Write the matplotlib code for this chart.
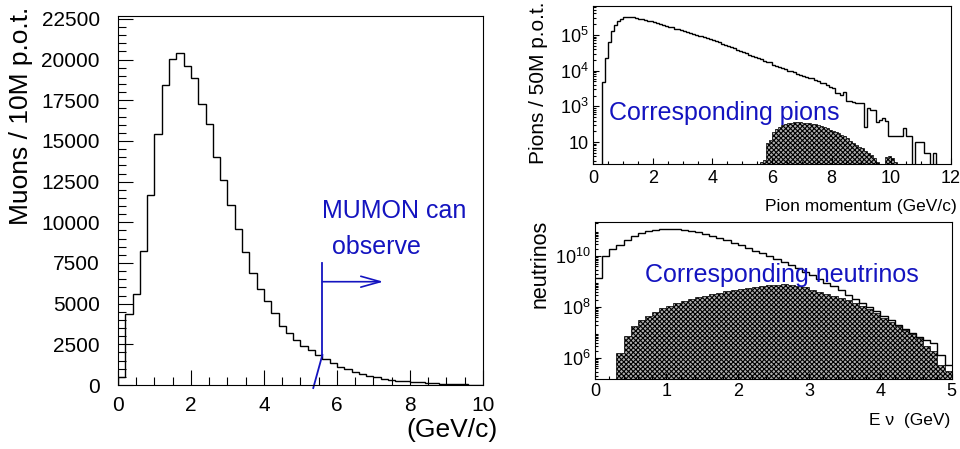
import matplotlib
matplotlib.use("Agg")
import matplotlib.pyplot as plt
import numpy as np
from matplotlib.ticker import MultipleLocator, FixedLocator, LogLocator, NullFormatter

# ---- data ----
# muons per 0.2 GeV/c bin, 0 - 10 GeV/c
muon_counts = [
    500, 4350, 5600, 8250, 11650, 15450, 18450, 20050, 20400, 19600,
    18850, 17250, 16050, 14000, 12600, 11050, 9600, 8150, 6900, 5900,
    5150, 4400, 3600, 3200, 2750, 2400, 2150, 1850, 1580, 1370,
    1130, 960, 820, 680, 550, 470, 390, 330, 270, 225,
    185, 165, 125, 100, 80, 60, 40, 40, 20, 20,
]
muon_bin = 0.2

# pions per 0.1 GeV/c bin (log10 of counts, 0 = empty), 0 - 12 GeV/c
pion_log = [
    0, 0, 0, 3.67, 4.34, 4.80, 5.12, 5.28, 5.39, 5.45,
    5.50, 5.51, 5.50, 5.49, 5.47, 5.455, 5.44, 5.415, 5.40, 5.377,
    5.35, 5.33, 5.30, 5.27, 5.25, 5.23, 5.21, 5.18, 5.16, 5.14,
    5.12, 5.09, 5.06, 5.03, 5.01, 4.98, 4.96, 4.93, 4.91, 4.88,
    4.86, 4.83, 4.80, 4.76, 4.73, 4.69, 4.66, 4.62, 4.58, 4.54,
    4.51, 4.48, 4.45, 4.42, 4.39, 4.36, 4.33, 4.28, 4.23, 4.24,
    4.16, 4.14, 4.11, 4.08, 4.05, 4.00, 3.98, 3.95, 3.91, 3.88,
    3.85, 3.83, 3.80, 3.79, 3.75, 3.70, 3.65, 3.66, 3.60, 3.55,
    3.51, 3.37, 3.36, 3.33, 3.40, 3.16, 3.16, 3.12, 3.10, 3.10,
    3.08, 2.43, 2.94, 2.90, 2.90, 2.57, 2.62, 2.66, 2.60, 2.17,
    2.17, 2.17, 2.17, 2.17, 2.38, 2.17, 2.17, 0, 2.01, 2.01,
    2.01, 1.68, 1.68, 0, 1.68, 0, 0, 0, 0, 0,
]
pion_sel_log = [0] * 56 + [
    1.45, 1.50, 1.98, 2.05,
    2.28, 2.36, 2.42, 2.47, 2.50, 2.52, 2.54, 2.55, 2.55, 2.55,
    2.54, 2.53, 2.52, 2.51, 2.50, 2.47, 2.45, 2.42, 2.38, 2.35,
    2.32, 2.28, 2.24, 2.20, 2.16, 2.10, 2.04, 1.98, 1.93, 1.87,
    1.82, 1.76, 1.70, 1.63, 1.56, 1.45, 0, 0, 1.58, 1.62,
    1.55, 1.45,
] + [0] * 18
pion_bin = 0.1

# neutrinos per 0.1 GeV bin (log10), 0 - 5 GeV
nu_log = [
    9.15, 10.03, 10.28, 10.46, 10.65, 10.78, 10.90, 10.98, 11.04, 11.07,
    11.08, 11.07, 11.05, 11.01, 10.95, 10.87, 10.80, 10.72, 10.63, 10.54,
    10.43, 10.33, 10.22, 10.12, 10.00, 9.89, 9.77, 9.65, 9.53, 9.40,
    9.27, 9.12, 8.97, 8.82, 8.66, 8.50, 8.34, 8.18, 8.01, 7.84,
    7.67, 7.50, 7.32, 7.15, 6.98, 6.85, 6.73, 6.60, 6.14, 5.75,
]
nu_sel_log = [
    0, 0, 0, 6.20, 6.88, 7.27, 7.50, 7.67, 7.83, 7.96,
    8.07, 8.16, 8.24, 8.32, 8.39, 8.46, 8.52, 8.58, 8.64, 8.69,
    8.73, 8.77, 8.81, 8.84, 8.87, 8.89, 8.90, 8.88, 8.84, 8.78,
    8.69, 8.61, 8.53, 8.45, 8.36, 8.27, 8.17, 8.06, 7.93, 7.78,
    7.60, 7.42, 7.26, 7.10, 6.94, 6.78, 6.48, 6.30, 5.75, 5.50,
]
nu_bin = 0.1

# MUMON acceptance marker (GeV/c, muons)
mumon_cut = 5.6
mumon_cut_low = 5.35
mumon_y = [1850, 7500]
mumon_arrow_y = 6350
mumon_arrow_end = 7.27

blue = "#1414c0"

plt.rcParams["font.family"] = ["Liberation Sans", "DejaVu Sans"]
plt.rcParams["mathtext.fontset"] = "custom"
plt.rcParams["mathtext.rm"] = "Liberation Sans"
plt.rcParams["hatch.linewidth"] = 0.8

fig = plt.figure(figsize=(9.6, 4.49), dpi=100)


def style(ax, size, major, minor, pad):
    ax.tick_params(which="both", direction="in", top=False, right=False,
                   labelsize=size, pad=pad, width=0.8)
    ax.tick_params(which="major", length=major)
    ax.tick_params(which="minor", length=minor)
    for s in ax.spines.values():
        s.set_linewidth(0.8)


# ---- left: muons ----
ax1 = fig.add_axes([0.1229, 0.1425, 0.3802, 0.8218])
edges = np.arange(len(muon_counts) + 1) * muon_bin
ax1.stairs(muon_counts, edges, color="black", lw=1.0)
ax1.set_xlim(0, 10)
ax1.set_ylim(0, 22680)
ax1.xaxis.set_major_locator(MultipleLocator(2))
ax1.xaxis.set_minor_locator(MultipleLocator(0.5))
ax1.yaxis.set_major_locator(MultipleLocator(2500))
ax1.yaxis.set_minor_locator(MultipleLocator(500))
style(ax1, 15, 10.5, 5.5, 8)
ax1.tick_params(axis="y", pad=13)

ax1.plot([mumon_cut, mumon_cut], mumon_y, color=blue, lw=1.3)
ax1.plot([mumon_cut_low, mumon_cut], [-185, mumon_y[0]], color=blue, lw=1.3,
         clip_on=False)
ax1.annotate("", xy=(mumon_arrow_end, mumon_arrow_y),
             xytext=(mumon_cut, mumon_arrow_y),
             arrowprops=dict(arrowstyle="->,head_length=1.0,head_width=0.28",
                             color=blue, lw=1.2, shrinkA=0, shrinkB=0,
                             mutation_scale=14))
ax1.text(5.6, 10700, "MUMON can", color=blue, fontsize=18, va="center")
ax1.text(5.85, 8480, "observe", color=blue, fontsize=18, va="center")

fig.text(21 / 960, 1 - 7 / 449, "Muons / 10M p.o.t.", rotation=90,
         fontsize=19, ha="center", va="top")
fig.text(498 / 960, 1 - 430 / 449, "(GeV/c)", fontsize=19,
         ha="right", va="center")

# ---- top right: pions ----
ax2 = fig.add_axes([0.6180, 0.6347, 0.3723, 0.3519])
pedges = np.arange(len(pion_log) + 1) * pion_bin
ax2.stairs(10.0 ** np.array(pion_sel_log), pedges, baseline=1, fill=True,
           facecolor="#b0b0b0", edgecolor="black", hatch="xxxxxxx", lw=0.5)
ax2.stairs(10.0 ** np.array(pion_log), pedges, baseline=None,
           color="black", lw=1.0)
ax2.set_yscale("log")
ax2.set_xlim(0, 12)
ax2.set_ylim(10 ** 1.384, 10 ** 5.81)
ax2.xaxis.set_major_locator(MultipleLocator(2))
ax2.xaxis.set_minor_locator(MultipleLocator(0.5))
ax2.yaxis.set_major_locator(FixedLocator([1e2, 1e3, 1e4, 1e5]))
ax2.set_yticklabels(["10", "10$^3$", "10$^4$", "10$^5$"])
ax2.yaxis.set_minor_locator(LogLocator(base=10, subs=np.arange(2, 10), numticks=20))
ax2.yaxis.set_minor_formatter(NullFormatter())
style(ax2, 13, 4.5, 2.5, 4)
ax2.tick_params(axis="y", pad=3)
ax2.text(0.044, 0.278, "Corresponding pions", color=blue, fontsize=18,
         transform=ax2.transAxes, va="baseline")
fig.text(539 / 960, 1 - 164 / 449, "Pions / 50M p.o.t.", rotation=90,
         fontsize=15, ha="center", va="bottom")
fig.text(957 / 960, 1 - 207 / 449, "Pion momentum (GeV/c)", fontsize=12.5,
         ha="right", va="center")

# ---- bottom right: neutrinos ----
ax3 = fig.add_axes([0.6198, 0.1552, 0.3716, 0.3510])
nedges = np.arange(len(nu_log) + 1) * nu_bin
ax3.stairs(10.0 ** np.array(nu_sel_log), nedges, baseline=1, fill=True,
           facecolor="#b0b0b0", edgecolor="black", hatch="xxxxxxx", lw=0.5)
ax3.stairs(10.0 ** np.array(nu_log), nedges, baseline=None,
           color="black", lw=1.0)
ax3.set_yscale("log")
ax3.set_xlim(0, 5)
ax3.set_ylim(10 ** 5.176, 10 ** 11.357)
ax3.xaxis.set_major_locator(MultipleLocator(1))
ax3.xaxis.set_minor_locator(MultipleLocator(0.2))
ax3.yaxis.set_major_locator(FixedLocator([1e6, 1e8, 1e10]))
ax3.set_yticklabels(["10$^6$", "10$^8$", "10$^{10}$"])
ax3.yaxis.set_minor_locator(LogLocator(base=10, subs=np.arange(2, 10), numticks=20))
ax3.yaxis.set_minor_formatter(NullFormatter())
style(ax3, 13, 4.5, 2.5, 3)
ax3.text(0.140, 0.619, "Corresponding neutrinos", color=blue, fontsize=18,
         transform=ax3.transAxes, va="baseline", zorder=5)
fig.text(540 / 960, 1 - 220 / 449, "neutrinos", rotation=90,
         fontsize=15.5, ha="center", va="top")
fig.text(950 / 960, 1 - 420 / 449, "E \u03bd  (GeV)", fontsize=12.5,
         ha="right", va="center")

fig.savefig("out.png", dpi=100)
